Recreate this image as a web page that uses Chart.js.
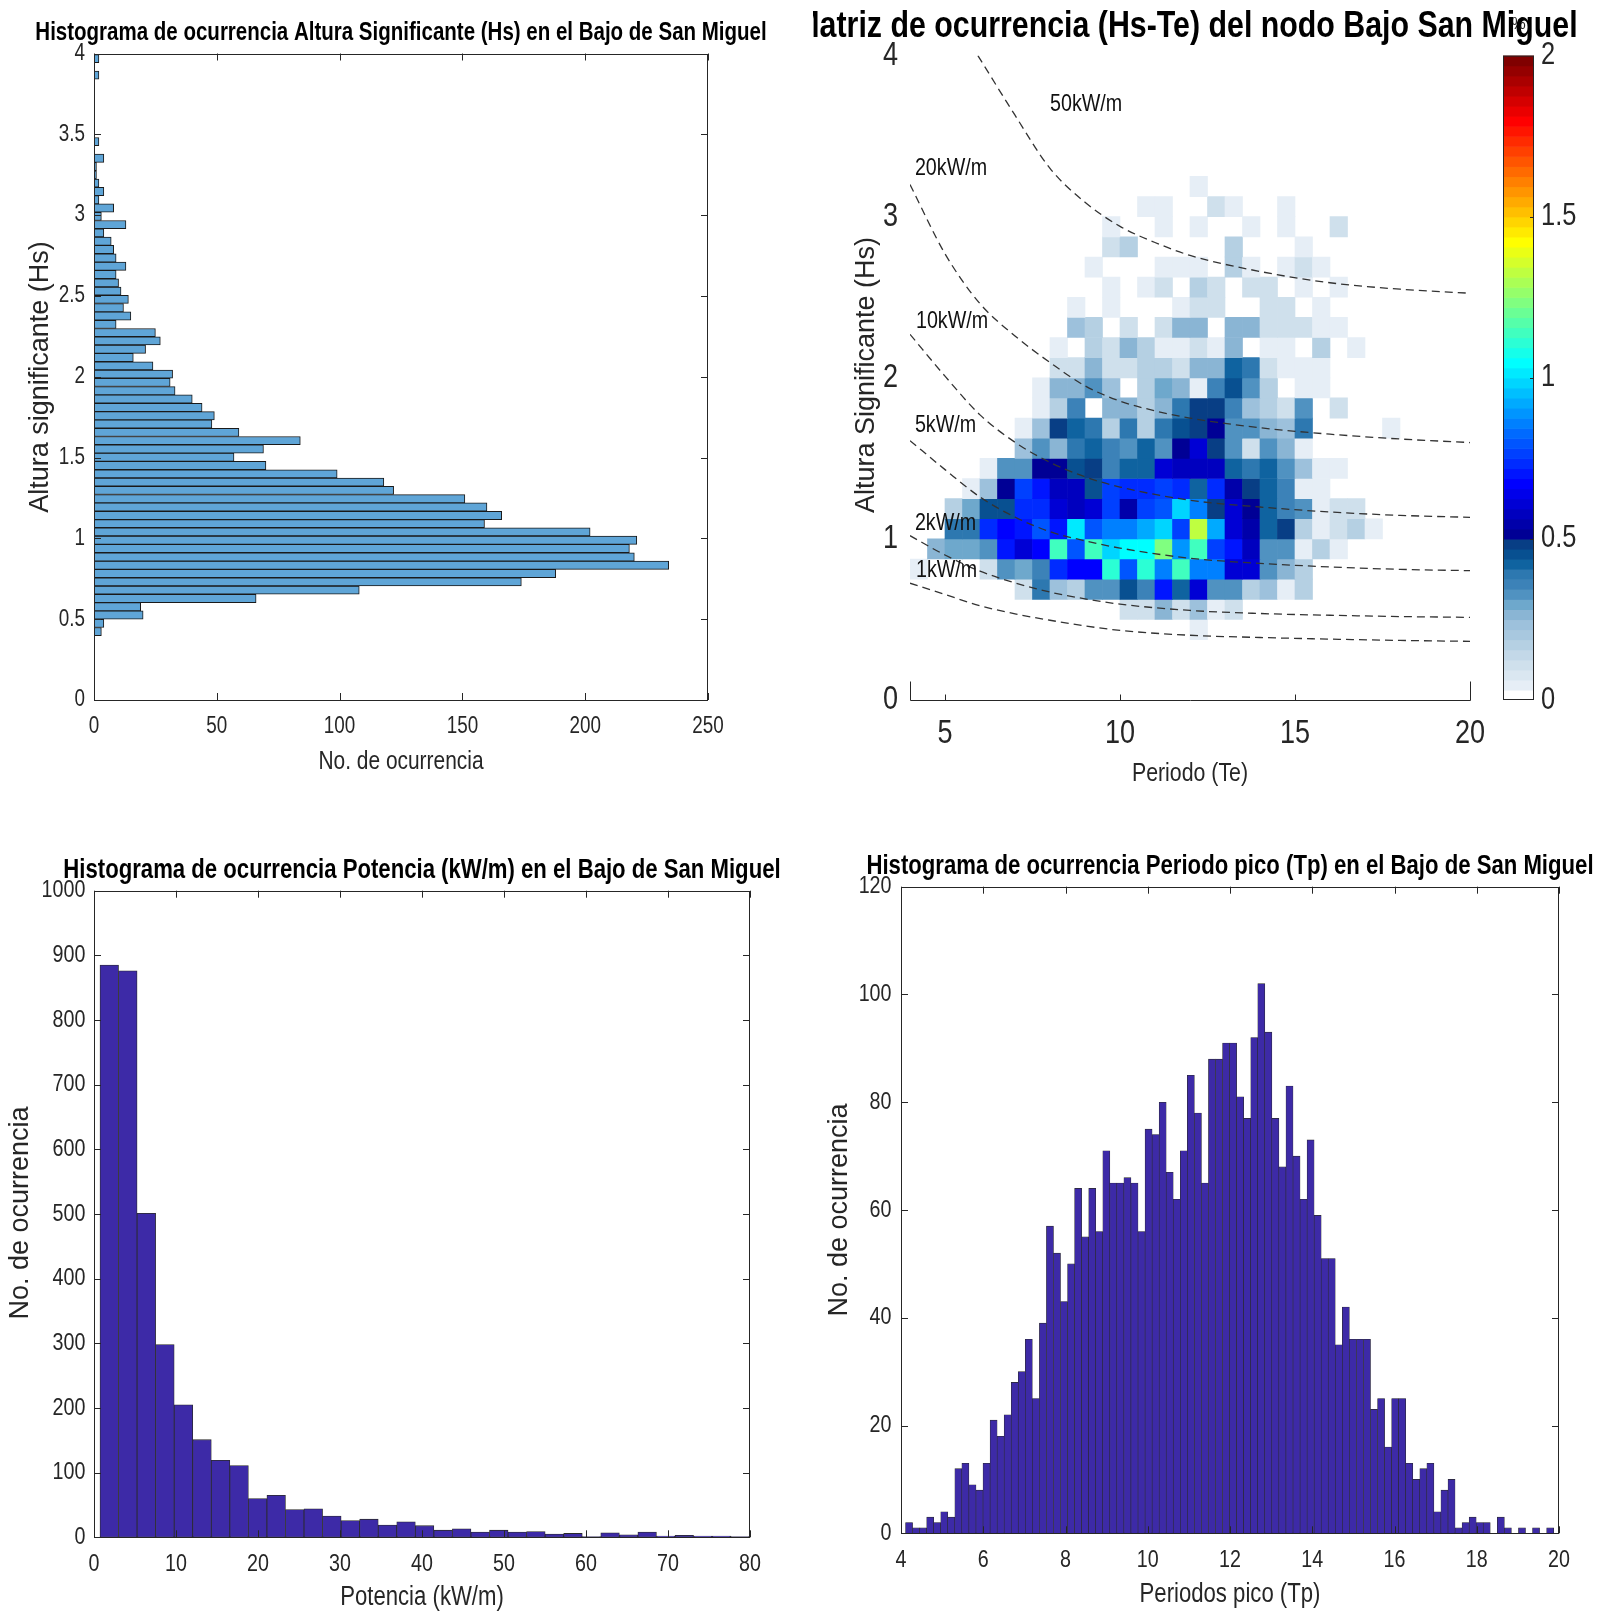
<!DOCTYPE html>
<html>
<head>
<meta charset="utf-8">
<script src="https://cdn.jsdelivr.net/npm/chart.js@4.4.1/dist/chart.umd.min.js"></script>
<style>
  body { margin: 0; background: #fff; width: 1609px; height: 1614px; position: relative; overflow: hidden; }
  canvas { position: absolute; }
</style>
</head>
<body>
<canvas id="hsHist" width="800" height="800" style="left:0;top:0"></canvas>
<canvas id="matriz" width="796" height="800" style="left:813px;top:0"></canvas>
<canvas id="potHist" width="800" height="814" style="left:0;top:800px"></canvas>
<canvas id="tpHist" width="809" height="814" style="left:800px;top:800px"></canvas>
<script>
// ---------- datos: histograma Hs (centro de clase, ocurrencias) ----------
const hsCentros = [
  0.423, 0.474, 0.526, 0.577, 0.628, 0.680, 0.731, 0.783, 0.834, 0.885,
  0.937, 0.988, 1.040, 1.091, 1.142, 1.194, 1.245, 1.297, 1.348, 1.399,
  1.451, 1.502, 1.553, 1.605, 1.656, 1.708, 1.759, 1.810, 1.862, 1.913,
  1.965, 2.016, 2.067, 2.119, 2.170, 2.222, 2.273, 2.324, 2.376, 2.427,
  2.479, 2.530, 2.581, 2.633, 2.684, 2.735, 2.787, 2.838, 2.890, 2.941,
  2.992, 3.044, 3.095, 3.146, 3.198, 3.249, 3.301, 3.352, 3.403, 3.455,
  3.506, 3.557, 3.609, 3.660, 3.712, 3.763, 3.814, 3.866, 3.917, 3.968
];
const hsConteo = [
  3, 4, 20, 19, 66, 108, 174, 188, 234, 220,
  218, 221, 202, 159, 166, 160, 151, 122, 118, 99,
  70, 57, 69, 84, 59, 48, 49, 44, 40, 33,
  31, 32, 24, 16, 21, 27, 25, 9, 15, 12,
  14, 11, 10, 9, 13, 9, 8, 7, 4, 13,
  3, 8, 2, 4, 2, 1, 1, 4, 0, 2,
  0, 0, 0, 0, 0, 0, 0, 2, 0, 2
];

// ---------- datos: histograma de potencia ----------
const potCentros = [
  1.861, 4.123, 6.385, 8.647, 10.909, 13.171, 15.433, 17.695, 19.957, 22.219,
  24.481, 26.743, 29.005, 31.267, 33.529, 35.791, 38.053, 40.315, 42.577, 44.839,
  47.101, 49.363, 51.625, 53.887, 56.149, 58.411, 60.673, 62.935, 65.197, 67.459,
  69.721, 71.983, 74.245, 76.507, 78.769
];
const potConteo = [
  885, 876, 501, 298, 205, 151, 119, 111, 60, 65,
  43, 44, 33, 26, 28, 19, 24, 18, 11, 13,
  8, 11, 8, 9, 5, 6, 1, 7, 4, 8,
  2, 3, 2, 2, 1
];

// ---------- datos: histograma periodo pico ----------
const tpCentros = [
  4.196, 4.367, 4.538, 4.710, 4.881, 5.052, 5.224, 5.395, 5.566, 5.738,
  5.909, 6.080, 6.252, 6.423, 6.594, 6.766, 6.937, 7.108, 7.279, 7.451,
  7.622, 7.793, 7.965, 8.136, 8.307, 8.479, 8.650, 8.821, 8.993, 9.164,
  9.335, 9.506, 9.678, 9.849, 10.020, 10.192, 10.363, 10.534, 10.706, 10.877,
  11.048, 11.220, 11.391, 11.562, 11.733, 11.905, 12.076, 12.247, 12.419, 12.590,
  12.761, 12.933, 13.104, 13.275, 13.447, 13.618, 13.789, 13.960, 14.132, 14.303,
  14.474, 14.646, 14.817, 14.988, 15.160, 15.331, 15.502, 15.674, 15.845, 16.016,
  16.187, 16.359, 16.530, 16.701, 16.873, 17.044, 17.215, 17.387, 17.558, 17.729,
  17.901, 18.072, 18.243, 18.414, 18.586, 18.757, 18.928, 19.100, 19.271, 19.442,
  19.614, 19.785
];
const tpConteo = [
  2, 1, 1, 3, 2, 4, 3, 12, 13, 9,
  8, 13, 21, 18, 22, 28, 30, 36, 25, 39,
  57, 52, 43, 50, 64, 55, 64, 56, 71, 65,
  65, 66, 65, 56, 75, 74, 80, 67, 62, 71,
  85, 78, 65, 88, 88, 91, 91, 81, 77, 92,
  102, 93, 77, 68, 83, 70, 62, 73, 59, 51,
  51, 35, 42, 36, 36, 36, 23, 25, 16, 25,
  25, 13, 10, 12, 13, 4, 8, 10, 1, 2,
  3, 2, 2, 0, 3, 1, 0, 1, 0, 1,
  0, 1
];

// ---------- datos: matriz Hs-Te (% de ocurrencia) ----------
const teCentros = [4.25, 4.75, 5.25, 5.75, 6.25, 6.75, 7.25, 7.75, 8.25, 8.75, 9.25, 9.75, 10.25, 10.75,
  11.25, 11.75, 12.25, 12.75, 13.25, 13.75, 14.25, 14.75, 15.25, 15.75, 16.25, 16.75, 17.25, 17.75];
const hsBordes = [0.375, 0.5, 0.625, 0.75, 0.875, 1, 1.125, 1.25, 1.375, 1.5, 1.625, 1.75, 1.875,
  2, 2.125, 2.25, 2.375, 2.5, 2.625, 2.75, 2.875, 3, 3.125, 3.25];
// filas de Hs bajo a alto, columnas por Te
const matrizOcurrencia = [
  [0,0,0,0,0,0,0,0,0,0,0,0,0,0,0,0,.05,0,0,0,0,0,0,0,0,0,0,0],
  [0,0,0,0,0,0,0,0,0,0,0,0,.11,.11,.27,.11,.23,.05,.11,0,0,0,0,0,0,0,0,0],
  [0,0,0,0,0,0,.11,.39,.23,.17,.34,.34,.44,.37,.70,.42,.62,.34,.34,.17,.23,.05,.17,0,0,0,0,0],
  [.05,0,0,0,.11,.33,.30,.37,.73,.67,.67,1.11,.80,1.11,.86,1.15,.86,.86,.62,.62,.34,.27,.17,0,0,0,0,0],
  [0,.27,.30,.30,.34,.70,.62,.67,1.13,.80,1.13,.98,1.06,1.06,1.23,.90,1.15,.77,.70,.58,.34,.34,.05,.17,.05,0,0,0],
  [0,0,.39,.40,.73,.67,.70,.81,.70,1.03,.80,.86,.86,.92,.98,.77,1.33,.92,.62,.54,.42,.48,.17,.05,.11,.17,.05,0],
  [0,0,.17,.30,.45,.44,.73,.73,.62,.58,.62,.75,.56,.77,.81,.98,.86,.48,.62,.52,.42,.37,.33,.05,.11,.11,0,0],
  [0,0,0,.05,.23,.52,.77,.70,.58,.59,.45,.75,.73,.74,.77,.73,.42,.73,.56,.48,.42,.37,.05,.05,0,0,0,0],
  [0,0,0,0,.05,.34,.34,.52,.52,.45,.48,.37,.43,.43,.62,.59,.59,.59,.42,.39,.42,.33,.23,.05,.05,0,0,0],
  [0,0,0,0,0,0,.23,.34,.27,.39,.42,.37,.34,.43,.34,.53,.60,.48,.33,.11,.33,.27,.05,0,0,0,0,0],
  [0,0,0,0,0,0,.05,.23,.48,.42,.39,.17,.39,.17,.39,.45,.48,.52,.33,.34,.27,.23,.40,0,0,0,0,.05],
  [0,0,0,0,0,0,0,.05,.17,.37,0,.27,.27,.17,.27,.39,.48,.47,.37,.23,.17,.11,.33,0,.11,0,0,0],
  [0,0,0,0,0,0,0,.05,.27,.27,.33,.23,0,.17,.30,.27,.05,.36,.44,.33,.17,0,.05,.05,0,0,0,0],
  [0,0,0,0,0,0,0,0,.11,.11,.27,.11,.11,.17,.17,.11,.27,.27,.42,.39,.11,.05,.05,.05,0,0,0,0],
  [0,0,0,0,0,0,0,0,.05,0,.17,.11,.27,.17,.05,.05,.11,.05,.27,0,.05,.05,0,.17,0,.05,0,0],
  [0,0,0,0,0,0,0,0,0,.23,.17,0,.11,0,.11,.27,.27,0,.27,.27,.11,.11,.11,.05,.05,0,0,0],
  [0,0,0,0,0,0,0,0,0,.05,0,.05,0,0,0,.05,.11,.11,0,0,.11,.11,0,.05,0,0,0,0],
  [0,0,0,0,0,0,0,0,0,0,0,.05,0,.05,.11,0,.17,.11,0,.11,.11,0,.05,0,.05,0,0,0],
  [0,0,0,0,0,0,0,0,0,0,.05,0,0,0,.05,.05,.05,0,.17,.05,0,.05,.11,.05,0,0,0,0],
  [0,0,0,0,0,0,0,0,0,0,0,.11,.17,0,0,0,0,0,.17,0,0,0,.05,0,0,0,0,0],
  [0,0,0,0,0,0,0,0,0,0,0,.05,0,0,.05,0,.05,0,0,.05,0,.05,0,0,.11,0,0,0],
  [0,0,0,0,0,0,0,0,0,0,0,0,0,.05,.05,0,0,.11,.05,0,0,.05,0,0,0,0,0,0],
  [0,0,0,0,0,0,0,0,0,0,0,0,0,0,0,0,.05,0,0,0,0,0,0,0,0,0,0,0]
];

// curvas de isopotencia: [Te, Hs]
const curva1kW = [[4,0.725],[5,0.655],[6,0.585],[7,0.535],[8,0.495],[9,0.46],[10,0.432],[12,0.402],[14,0.388],[16,0.378],[18,0.37],[20,0.364]];
const curva2kW = [[4,1.02],[5,0.90],[6,0.80],[7,0.727],[8,0.67],[9,0.628],[10,0.595],[12,0.556],[14,0.537],[16,0.526],[18,0.518],[20,0.513]];
const curva5kW = [[4,1.61],[5,1.43],[6,1.26],[7,1.135],[8,1.045],[9,0.988],[10,0.943],[12,0.88],[14,0.848],[16,0.826],[18,0.811],[20,0.803]];
const curva10kW = [[4,2.27],[5,2.01],[6,1.77],[7,1.60],[8,1.475],[9,1.385],[10,1.322],[12,1.24],[14,1.198],[16,1.167],[18,1.146],[20,1.134]];
const curva20kW = [[4,3.20],[5,2.77],[6,2.46],[7,2.26],[8,2.095],[9,1.95],[10,1.855],[11,1.795],[12,1.75],[14,1.69],[16,1.65],[18,1.62],[20,1.598]];
const curva50kW = [[5.94,4.0],[7,3.63],[8,3.30],[9,3.09],[10,2.94],[11,2.84],[12,2.76],[14,2.66],[16,2.59],[18,2.55],[20,2.525]];
const etiquetasCurvas = ['1kW/m', '2kW/m', '5kW/m', '10kW/m', '20kW/m', '50kW/m'];

// ---------- estilo ----------
const ARIAL = "'Liberation Sans', Arial, sans-serif";
const ESTRECHO = 0.82;   // compresion horizontal para imitar Helvetica Narrow
Chart.defaults.font.family = ARIAL;
Chart.defaults.color = '#262626';
Chart.defaults.animation = false;
Chart.defaults.plugins.legend.display = false;
Chart.defaults.plugins.tooltip.enabled = false;

// mapa de color: 16 azules + jet(48)
const azules = [[255,255,255],[230,238,246],[218,231,241],[207,224,236],[195,216,232],[181,208,227],[168,200,223],
  [157,193,220],[138,181,212],[110,168,204],[80,146,193],[60,130,184],[45,120,176],[15,99,160],[8,80,145],[8,62,133]];
function jet(i) {
  const u = k => k < 1 ? 0 : k <= 12 ? k / 12 : k <= 23 ? 1 : k <= 35 ? (36 - k) / 12 : 0;
  return `rgb(${Math.round(u(i - 18) * 255)},${Math.round(u(i - 6) * 255)},${Math.round(u(i + 6) * 255)})`;
}
function colorMapa(v) {
  const idx = Math.max(0, Math.min(63, Math.floor(v / 2 * 64)));
  if (idx < 16) return `rgb(${azules[idx].join(',')})`;
  return jet(idx - 15);
}

const numero = v => String(v);

// texto con compresion horizontal opcional
function texto(ctx, s, x, y, o) {
  ctx.save();
  ctx.translate(x, y);
  if (o.rot) ctx.rotate(-Math.PI / 2);
  ctx.scale(o.sx || 1, 1);
  ctx.font = `${o.bold ? 'bold ' : ''}${o.size}px ${ARIAL}`;
  ctx.fillStyle = o.color || '#262626';
  ctx.textAlign = o.align || 'center';
  ctx.textBaseline = 'middle';
  ctx.fillText(s, 0, 0);
  ctx.restore();
}

// etiquetas de ejes y titulos dibujados a mano
const textoPlugin = {
  id: 'mtexto',
  afterDraw(chart, args, o) {
    const {ctx, chartArea: a, scales} = chart;
    (o.ticks || []).forEach(e => {
      const s = scales[e.eje];
      s.ticks.forEach(t => {
        const p = s.getPixelForValue(t.value);
        const lab = numero(t.value);
        if (e.lado === 'abajo') texto(ctx, lab, p, a.bottom + e.off, {size: e.size, sx: ESTRECHO});
        else if (e.lado === 'izq') texto(ctx, lab, a.left - e.off, p, {size: e.size, sx: ESTRECHO, align: 'right'});
        else texto(ctx, lab, s.left + e.off, p, {size: e.size, sx: ESTRECHO, align: 'left'});
      });
    });
    (o.etiquetas || []).forEach(e => texto(ctx, e.text, e.x, e.y, e));
  }
};

// caja con marcas hacia dentro, estilo MATLAB
const cajaPlugin = {
  id: 'mcaja',
  afterDatasetsDraw(chart, args, o) {
    if (!o.on) return;
    const {ctx, chartArea: a, scales: {x, y}} = chart;
    const L = 7;
    ctx.save();
    ctx.strokeStyle = '#262626';
    ctx.lineWidth = 1;
    ctx.strokeRect(Math.round(a.left) + 0.5, Math.round(a.top) + 0.5, Math.round(a.width) - 1, Math.round(a.height) - 1);
    ctx.beginPath();
    x.ticks.forEach(t => {
      const px = Math.round(x.getPixelForValue(t.value)) + 0.5;
      ctx.moveTo(px, a.bottom); ctx.lineTo(px, a.bottom - L);
      ctx.moveTo(px, a.top); ctx.lineTo(px, a.top + L);
    });
    y.ticks.forEach(t => {
      const py = Math.round(y.getPixelForValue(t.value)) + 0.5;
      ctx.moveTo(a.left, py); ctx.lineTo(a.left + L, py);
      ctx.moveTo(a.right, py); ctx.lineTo(a.right - L, py);
    });
    ctx.stroke();
    ctx.restore();
  }
};

function ejeLineal(extra) {
  return Object.assign({
    type: 'linear', offset: false,
    grid: {display: false, drawTicks: false},
    border: {display: false},
    ticks: {display: false}
  }, extra);
}

// ---------- 1. Histograma Hs (barras horizontales) ----------
new Chart(document.getElementById('hsHist'), {
  type: 'bar',
  data: {
    datasets: [{
      data: hsCentros.map((h, i) => ({x: hsConteo[i], y: h})).filter(d => d.x > 0),
      backgroundColor: 'rgb(95,165,215)',
      borderColor: '#1a1a1a',
      borderWidth: 1,
      borderSkipped: false,
      barPercentage: 1,
      categoryPercentage: 1
    }]
  },
  options: {
    responsive: false,
    indexAxis: 'y',
    layout: {padding: {left: 0, top: 53.5, right: 92, bottom: 0}},
    scales: {
      x: ejeLineal({min: 0, max: 250, ticks: {display: false, stepSize: 50}, afterFit: s => { s.height = 100; }}),
      y: ejeLineal({min: 0, max: 4, ticks: {display: false, stepSize: 0.5}, afterFit: s => { s.width = 94; }})
    },
    plugins: {
      mcaja: {on: true},
      mtexto: {
        ticks: [{eje: 'x', lado: 'abajo', off: 27, size: 23}, {eje: 'y', lado: 'izq', off: 9, size: 23}],
        etiquetas: [
          {text: 'Histograma de ocurrencia Altura Significante (Hs) en el Bajo de San Miguel', x: 401, y: 33, size: 25, bold: true, sx: ESTRECHO, color: '#000'},
          {text: 'No. de ocurrencia', x: 401, y: 762, size: 25.5, sx: ESTRECHO},
          {text: 'Altura significante (Hs)', x: 41, y: 377, size: 27, rot: true}
        ]
      }
    }
  },
  plugins: [cajaPlugin, textoPlugin]
});

// ---------- 2. Matriz de ocurrencia Hs-Te ----------
const celdas = [];
matrizOcurrencia.forEach((fila, r) => {
  fila.forEach((v, c) => {
    if (v > 0) celdas.push({x: teCentros[c], y: [hsBordes[r], hsBordes[r + 1]], v: v});
  });
});
const curvas = [curva1kW, curva2kW, curva5kW, curva10kW, curva20kW, curva50kW];

const matrizPlugin = {
  id: 'mmatriz',
  afterDatasetsDraw(chart) {
    const {ctx, scales: {x, y, cb}} = chart;
    ctx.save();
    // eje inferior y extremos cortos
    ctx.strokeStyle = '#262626';
    ctx.lineWidth = 1;
    const y0 = Math.round(y.getPixelForValue(0)) + 0.5;
    const xl = Math.round(x.getPixelForValue(4)) + 0.5;
    const xr = Math.round(x.getPixelForValue(20)) + 0.5;
    ctx.beginPath();
    ctx.moveTo(xl, y0 - 19); ctx.lineTo(xl, y0); ctx.lineTo(xr, y0); ctx.lineTo(xr, y0 - 19);
    x.ticks.forEach(t => {
      if (t.value <= 4 || t.value >= 20) return;
      const px = Math.round(x.getPixelForValue(t.value)) + 0.5;
      ctx.moveTo(px, y0); ctx.lineTo(px, y0 - 6);
    });
    ctx.stroke();

    // etiquetas de las curvas
    const posEtiquetas = [[4.17, 0.806], [4.14, 1.099], [4.14, 1.705], [4.17, 2.352], [4.14, 3.303], [8.0, 3.70]];
    etiquetasCurvas.forEach((t, i) => {
      texto(ctx, t, x.getPixelForValue(posEtiquetas[i][0]), y.getPixelForValue(posEtiquetas[i][1]),
        {size: 24, sx: ESTRECHO, align: 'left', color: '#111'});
    });

    // barra de color
    const bx = cb.left + 33, bw = 31;
    for (let k = 0; k < 64; k++) {
      const v0 = k * 2 / 64, v1 = (k + 1) * 2 / 64;
      const p0 = cb.getPixelForValue(v0), p1 = cb.getPixelForValue(v1);
      ctx.fillStyle = colorMapa((v0 + v1) / 2);
      ctx.fillRect(bx, p1, bw, p0 - p1 + 0.6);
    }
    ctx.strokeStyle = '#262626';
    ctx.strokeRect(bx + 0.5, cb.getPixelForValue(2) + 0.5, bw - 1, cb.getPixelForValue(0) - cb.getPixelForValue(2) - 1);
    ctx.beginPath();
    [0.5, 1, 1.5].forEach(v => {
      const py = Math.round(cb.getPixelForValue(v)) + 0.5;
      ctx.moveTo(bx + bw, py); ctx.lineTo(bx + bw - 4, py);
    });
    ctx.stroke();
    texto(ctx, '%', bx + bw / 2, 25, {size: 16});
    ctx.restore();
  }
};

new Chart(document.getElementById('matriz'), {
  type: 'bar',
  data: {
    datasets: curvas.map(c => ({
      type: 'line',
      data: c.map(p => ({x: p[0], y: p[1]})),
      borderColor: '#333',
      borderWidth: 1.3,
      borderDash: [8, 5],
      pointRadius: 0,
      cubicInterpolationMode: 'monotone',
      fill: false,
      order: 0
    })).concat([{
      type: 'bar',
      data: celdas,
      backgroundColor: ctx => ctx.raw ? colorMapa(ctx.raw.v) : '#fff',
      borderWidth: 0,
      barPercentage: 1,
      categoryPercentage: 1,
      order: 1
    }])
  },
  options: {
    responsive: false,
    layout: {padding: {left: 0, top: 55.6, right: 0, bottom: 0}},
    scales: {
      x: ejeLineal({min: 4, max: 20, ticks: {display: false, stepSize: 5, includeBounds: false}, afterFit: s => { s.height = 100; }}),
      y: ejeLineal({min: 0, max: 4, ticks: {display: false, stepSize: 1}, afterFit: s => { s.width = 97; }}),
      cb: ejeLineal({axis: 'y', position: 'right', min: 0, max: 2, ticks: {display: false, stepSize: 0.5}, afterFit: s => { s.width = 139; }})
    },
    plugins: {
      mtexto: {
        ticks: [{eje: 'x', lado: 'abajo', off: 34, size: 33}, {eje: 'y', lado: 'izq', off: 12, size: 33}, {eje: 'cb', lado: 'der', off: 71, size: 31}],
        etiquetas: [
          {text: 'Matriz de ocurrencia (Hs-Te) del nodo Bajo San Miguel', x: 373, y: 27, size: 37, bold: true, sx: ESTRECHO, color: '#000'},
          {text: 'Periodo (Te)', x: 377, y: 774, size: 26, sx: ESTRECHO},
          {text: 'Altura Significante (Hs)', x: 54, y: 375, size: 27, rot: true}
        ]
      }
    }
  },
  plugins: [matrizPlugin, textoPlugin]
});

// ---------- 3. Histograma de potencia ----------
new Chart(document.getElementById('potHist'), {
  type: 'bar',
  data: {
    datasets: [{
      data: potCentros.map((p, i) => ({x: p, y: potConteo[i]})),
      backgroundColor: 'rgb(61,42,167)',
      borderColor: '#2a2a2a',
      borderWidth: 0.8,
      borderSkipped: false,
      barPercentage: 1,
      categoryPercentage: 1
    }]
  },
  options: {
    responsive: false,
    layout: {padding: {left: 0, top: 90.7, right: 50, bottom: 0}},
    scales: {
      x: ejeLineal({min: 0, max: 80, ticks: {display: false, stepSize: 10}, afterFit: s => { s.height = 76.7; }}),
      y: ejeLineal({min: 0, max: 1000, ticks: {display: false, stepSize: 100}, afterFit: s => { s.width = 94; }})
    },
    plugins: {
      mcaja: {on: true},
      mtexto: {
        ticks: [{eje: 'x', lado: 'abajo', off: 27.5, size: 24}, {eje: 'y', lado: 'izq', off: 8.6, size: 24}],
        etiquetas: [
          {text: 'Histograma de ocurrencia Potencia (kW/m) en el Bajo de San Miguel', x: 422, y: 71, size: 27, bold: true, sx: ESTRECHO, color: '#000'},
          {text: 'Potencia (kW/m)', x: 422, y: 798, size: 27, sx: ESTRECHO},
          {text: 'No. de ocurrencia', x: 21, y: 413, size: 27, rot: true}
        ]
      }
    }
  },
  plugins: [cajaPlugin, textoPlugin]
});

// ---------- 4. Histograma periodo pico ----------
new Chart(document.getElementById('tpHist'), {
  type: 'bar',
  data: {
    datasets: [{
      data: tpCentros.map((t, i) => ({x: t, y: tpConteo[i]})),
      backgroundColor: 'rgb(61,42,167)',
      borderColor: '#2a2a2a',
      borderWidth: 0.6,
      borderSkipped: false,
      barPercentage: 1,
      categoryPercentage: 1
    }]
  },
  options: {
    responsive: false,
    layout: {padding: {left: 0, top: 86.7, right: 50, bottom: 0}},
    scales: {
      x: ejeLineal({min: 4, max: 20, ticks: {display: false, stepSize: 2}, afterFit: s => { s.height = 80.7; }}),
      y: ejeLineal({min: 0, max: 120, ticks: {display: false, stepSize: 20}, afterFit: s => { s.width = 101; }})
    },
    plugins: {
      mcaja: {on: true},
      mtexto: {
        ticks: [{eje: 'x', lado: 'abajo', off: 27.3, size: 24}, {eje: 'y', lado: 'izq', off: 9.5, size: 24}],
        etiquetas: [
          {text: 'Histograma de ocurrencia Periodo pico (Tp) en el Bajo de San Miguel', x: 430, y: 66.7, size: 27, bold: true, sx: ESTRECHO, color: '#000'},
          {text: 'Periodos pico (Tp)', x: 430, y: 794.5, size: 27, sx: ESTRECHO},
          {text: 'No. de ocurrencia', x: 40, y: 410, size: 27, rot: true}
        ]
      }
    }
  },
  plugins: [cajaPlugin, textoPlugin]
});
</script>
</body>
</html>
